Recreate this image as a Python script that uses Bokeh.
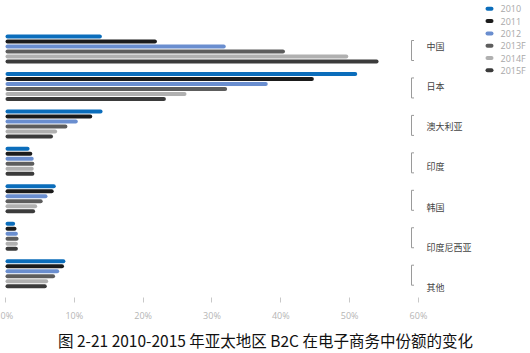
from bokeh.plotting import figure
from bokeh.models import (Range1d, FixedTicker, PrintfTickFormatter, Title, ColumnDataSource)
from bokeh.embed import file_html
from bokeh.resources import INLINE
from bokeh.core.properties import value

# ---------------- data ----------------
regions = ["中国", "日本", "澳大利亚", "印度", "韩国", "印度尼西亚", "其他"]
years = ["2010", "2011", "2012", "2013F", "2014F", "2015F"]
share_2010 = [14.0, 51.1, 14.1, 3.5, 7.3, 1.4, 8.7]
share_2011 = [22.0, 44.8, 12.6, 3.9, 7.0, 1.6, 8.5]
share_2012 = [32.0, 38.1, 10.5, 4.1, 6.1, 1.8, 7.8]
share_2013F = [40.6, 32.2, 9.0, 4.2, 5.4, 1.9, 7.2]
share_2014F = [49.8, 26.3, 7.5, 4.1, 4.6, 1.8, 6.2]
share_2015F = [54.2, 23.3, 6.9, 4.2, 4.3, 1.8, 6.0]
series = [share_2010, share_2011, share_2012, share_2013F, share_2014F, share_2015F]
x_ticks = [0, 10, 20, 30, 40, 50, 60]
caption = "图 2-21 2010-2015 年亚太地区 B2C 在电子商务中份额的变化"

# ---------------- style / layout ----------------
colors = ["#0b6dbb", "#1b1b1b", "#6a8ecf", "#5d5d5d", "#b0b0b0", "#3b3b3b"]
PX_PER_UNIT = 6.883          # pixels per percent
X0_PX = 5                    # pixel of 0%
FRAME_H = 297
GROUP_TOP = 36.0
GROUP_STEP = 37.45
BAR_STEP = 5.0
BAR_H = 4.0
LABEL_TOP = 45.7
LABEL_STEP = 40.2
LEG_TOP = 8.3
LEG_STEP = 12.3


def px(x_pixel):
    return (x_pixel - X0_PX) / PX_PER_UNIT


p = figure(width=530, height=353, output_backend="svg", toolbar_location=None,
           x_range=Range1d(px(0), px(530)),
           y_range=Range1d(FRAME_H, 0),
           min_border_left=0, min_border_right=0, min_border_top=0,
           min_border_bottom=56)
p.outline_line_color = None
p.grid.visible = False
p.yaxis.visible = False
p.background_fill_color = "white"
p.border_fill_color = "white"

for j, (vals, col) in enumerate(zip(series, colors)):
    ys = [GROUP_TOP + k * GROUP_STEP + j * BAR_STEP for k in range(len(regions))]
    src = ColumnDataSource(dict(y=ys, right=vals))
    p.hbar(y="y", left=0, right="right", height=BAR_H, source=src,
           fill_color=col, line_color=None, border_radius=2)

# brackets and region labels
bx = px(411)
bx2 = px(413.5)
xs, ys = [], []
for k in range(len(regions)):
    top = GROUP_TOP + k * GROUP_STEP + 4
    bot = top + 20
    xs.append([bx2, bx, bx, bx2])
    ys.append([top, top, bot, bot])
p.multi_line(xs=xs, ys=ys, line_color="#9a9a9a", line_width=1)

p.text(x=[px(426)] * len(regions),
       y=[LABEL_TOP + k * LABEL_STEP for k in range(len(regions))],
       text=regions, text_font=value("Noto Sans CJK SC"), text_font_size="9px",
       text_color="#444444", text_baseline="middle", text_align="left")

# legend (drawn manually at the top right)
leg_y = [LEG_TOP + i * LEG_STEP for i in range(len(years))]
p.hbar(y=leg_y, left=px(485), right=px(493), height=4, fill_color=colors,
       line_color=None, border_radius=2)
p.text(x=[px(500)] * len(years), y=leg_y, text=years,
       text_font=value("Open Sans"), text_font_size="9px", text_color="#a8a8a8",
       text_baseline="middle", text_align="left")

# x axis
ax = p.xaxis[0]
ax.ticker = FixedTicker(ticks=x_ticks)
ax.formatter = PrintfTickFormatter(format="%d%%")
ax.axis_line_color = None
ax.major_tick_in = 0
ax.major_tick_out = 5
ax.major_tick_line_color = "#c8c8c8"
ax.minor_tick_line_color = None
ax.major_label_text_color = "#b5b5b5"
ax.major_label_text_font = "Open Sans"
ax.major_label_text_font_size = "9px"
ax.major_label_standoff = 6

title = Title(text=caption, align="center", text_font="Noto Sans CJK SC",
              text_font_size="15.5px", text_font_style="normal", text_color="#111111",
              standoff=5)
p.add_layout(title, "below")

open("out.html", "w").write(file_html(p, INLINE))
